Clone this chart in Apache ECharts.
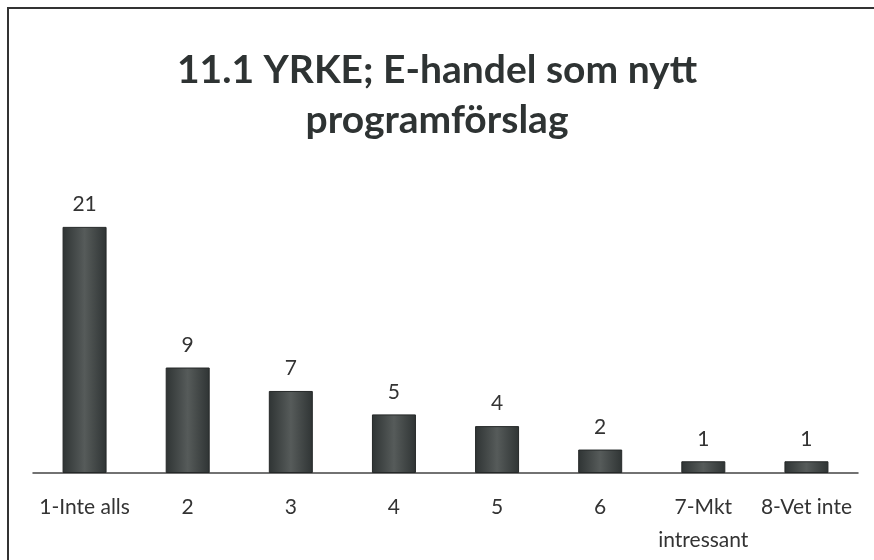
<!DOCTYPE html>
<html lang="sv">
<head>
  <meta charset="UTF-8">
  <title>11.1 YRKE</title>
  <script src="https://cdn.jsdelivr.net/npm/echarts@6/dist/echarts.min.js"></script>
  <style>
    html, body { margin: 0; padding: 0; background: #fff; }
  </style>
</head>
<body>
<div id="main" style="width: 874px;height:560px;"></div>
<script type="text/javascript">
  // svarsalternativ och antal svar
  var categories = ['1-Inte alls', '2', '3', '4', '5', '6', '7-Mkt\nintressant', '8-Vet inte'];
  var values = [21, 9, 7, 5, 4, 2, 1, 1];

  var myChart = echarts.init(document.getElementById('main'));
  var font = 'Lato, "Open Sans", sans-serif';

  myChart.setOption({
    backgroundColor: '#fff',
    title: {
      text: '11.1 YRKE; E-handel som nytt\nprogramförslag',
      left: 'center',
      top: 40,
      textStyle: {
        fontFamily: font,
        fontSize: 39,
        fontWeight: 'bold',
        color: '#2e3333',
        lineHeight: 50
      }
    },
    graphic: [{
      type: 'rect',
      shape: { x: 8, y: 8, width: 900, height: 600 },
      style: { fill: 'none', stroke: '#333', lineWidth: 2 }
    }],
    grid: { left: 33, right: 16, top: 180, bottom: 87 },
    xAxis: {
      type: 'category',
      data: categories,
      axisTick: { show: false },
      axisLine: { lineStyle: { color: '#444', width: 1.5 } },
      axisLabel: {
        interval: 0,
        margin: 18,
        fontFamily: font,
        fontSize: 21,
        color: '#333',
        lineHeight: 33
      }
    },
    yAxis: {
      type: 'value',
      min: 0,
      max: 25,
      show: false,
      splitLine: { show: false }
    },
    series: [{
      type: 'bar',
      data: values,
      barWidth: 44,
      itemStyle: {
        color: {
          type: 'linear', x: 0, y: 0, x2: 1, y2: 0,
          colorStops: [
            { offset: 0, color: '#2f3434' },
            { offset: 0.5, color: '#565b5a' },
            { offset: 1, color: '#2f3434' }
          ]
        },
        borderColor: '#252828',
        borderWidth: 1
      },
      label: {
        show: true,
        position: 'top',
        distance: 12,
        fontFamily: font,
        fontSize: 21,
        color: '#333'
      }
    }]
  });
</script>
</body>
</html>
